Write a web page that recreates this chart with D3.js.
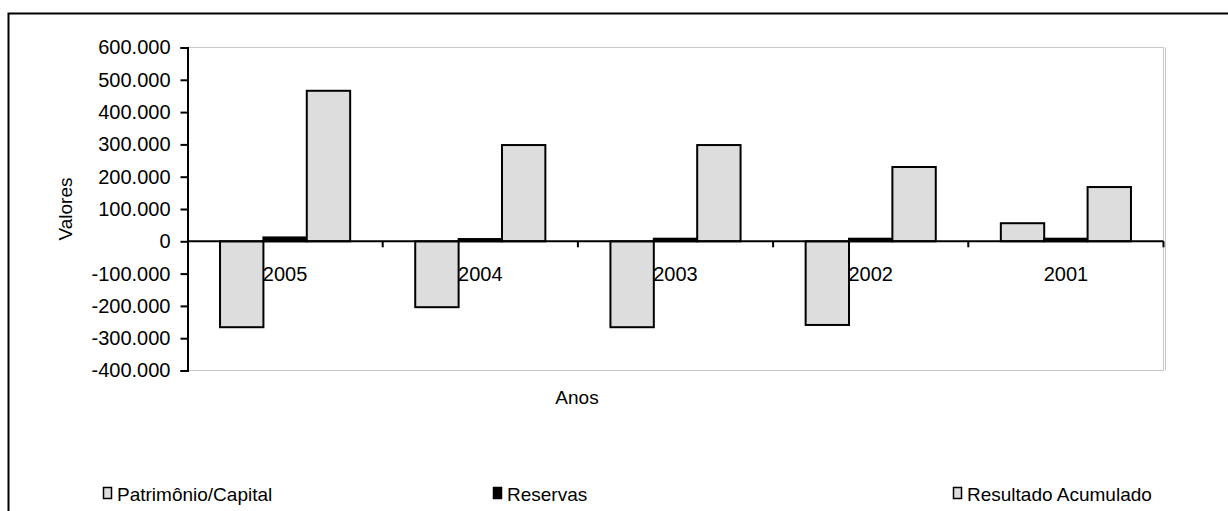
<!DOCTYPE html>
<html>
<head>
<meta charset="utf-8">
<script src="https://cdn.jsdelivr.net/npm/d3@7/dist/d3.min.js"></script>
<style>
  html, body { margin: 0; padding: 0; background: #fff; }
  svg { display: block; font-family: "Liberation Sans", Arial, sans-serif; }
</style>
</head>
<body>
<svg id="chart" width="1228" height="511"></svg>
<script>
// Anos (categorias) e séries em milhares
const anos = ["2005", "2004", "2003", "2002", "2001"];
const patrimonio = [-266000, -204000, -266000, -259000, 56000];
const reservas = [12000, 7000, 8000, 8000, 8000];
const resultado = [466000, 298000, 298000, 230000, 168000];
const seriesNames = ["Patrimônio/Capital", "Reservas", "Resultado Acumulado"];
const seriesFill = ["#dddddd", "#000000", "#dddddd"];
const yTicks = [-400000, -300000, -200000, -100000, 0, 100000, 200000, 300000, 400000, 500000, 600000];

const svg = d3.select("#chart");
const W = 1228, H = 511;
const plot = { left: 187.5, right: 1163.5, top: 47.5, bottom: 370.5 };

const locale = d3.formatLocale({ decimal: ",", thousands: ".", grouping: [3], currency: ["R$", ""], minus: "-" });
const fmt = locale.format(",");

// outer chart frame (extends beyond the page on the right and bottom)
svg.append("rect")
  .attr("x", 8.5).attr("y", 13.5)
  .attr("width", W + 20).attr("height", H + 20)
  .attr("fill", "#fff").attr("stroke", "#000").attr("stroke-width", 2);

const y = d3.scaleLinear().domain([-400000, 600000]).range([plot.bottom, plot.top]);
const x0 = d3.scaleBand().domain(anos).range([plot.left, plot.right]).padding(0);
const x1 = d3.scaleBand().domain(d3.range(3)).range([0, x0.bandwidth()])
  .paddingInner(0).paddingOuter(0.75);

// plot area border (light gray)
svg.append("rect")
  .attr("x", plot.left).attr("y", plot.top)
  .attr("width", plot.right - plot.left).attr("height", plot.bottom - plot.top)
  .attr("fill", "none").attr("stroke", "#c8c8c8").attr("stroke-width", 1);
svg.append("line")
  .attr("x1", plot.right + 2).attr("x2", plot.right + 2)
  .attr("y1", plot.top).attr("y2", plot.bottom)
  .attr("stroke", "#c8c8c8").attr("stroke-width", 1);

// bars
const rows = anos.map((a, i) => ({ ano: a, vals: [patrimonio[i], reservas[i], resultado[i]] }));
const g = svg.append("g");
rows.forEach(r => {
  r.vals.forEach((v, k) => {
    const y0 = y(0), yv = y(v);
    g.append("rect")
      .attr("x", x0(r.ano) + x1(k))
      .attr("y", Math.min(y0, yv))
      .attr("width", x1.bandwidth())
      .attr("height", Math.abs(yv - y0))
      .attr("fill", seriesFill[k])
      .attr("stroke", "#000")
      .attr("stroke-width", 2);
  });
});

// y axis
const yAxis = d3.axisLeft(y).tickValues(yTicks).tickFormat(fmt).tickSize(7).tickPadding(10);
const ya = svg.append("g").attr("transform", `translate(${plot.left},0)`).call(yAxis);
ya.select(".domain").attr("stroke", "#000").attr("stroke-width", 2);
ya.selectAll(".tick line").attr("stroke", "#000").attr("stroke-width", 2);
ya.selectAll(".tick text").attr("font-size", 20).attr("fill", "#000")
  .attr("font-family", "Liberation Sans, Arial, sans-serif");

// x axis along zero, ticks at category boundaries
const bounds = anos.map(a => x0(a) + x0.bandwidth());
svg.append("line")
  .attr("x1", plot.left).attr("x2", plot.right)
  .attr("y1", y(0)).attr("y2", y(0))
  .attr("stroke", "#000").attr("stroke-width", 2);
svg.selectAll(".xtick").data(bounds).enter().append("line")
  .attr("x1", d => d).attr("x2", d => d)
  .attr("y1", y(0)).attr("y2", y(0) + 6)
  .attr("stroke", "#000").attr("stroke-width", 2);
svg.selectAll(".xlabel").data(anos).enter().append("text")
  .attr("x", d => x0(d) + x0.bandwidth() / 2)
  .attr("y", y(0) + 40)
  .attr("text-anchor", "middle").attr("font-size", 20).attr("fill", "#000")
  .text(d => d);

// axis titles
svg.append("text")
  .attr("transform", `translate(72,${(plot.top + plot.bottom) / 2}) rotate(-90)`)
  .attr("text-anchor", "middle").attr("font-size", 19).attr("fill", "#000")
  .text("Valores");
svg.append("text")
  .attr("x", 577).attr("y", 404)
  .attr("text-anchor", "middle").attr("font-size", 19).attr("fill", "#000")
  .text("Anos");

// legend
const legendX = [103, 493, 953];
const lg = svg.selectAll(".legend").data(seriesNames).enter().append("g")
  .attr("transform", (d, i) => `translate(${legendX[i]},487)`);
lg.append("rect")
  .attr("x", 0.5).attr("y", 0.5).attr("width", 8).attr("height", 11)
  .attr("fill", (d, i) => seriesFill[i]).attr("stroke", "#000").attr("stroke-width", 1.5);
lg.append("text")
  .attr("x", 14).attr("y", 14)
  .attr("font-size", 19).attr("fill", "#000")
  .text(d => d);
</script>
</body>
</html>
